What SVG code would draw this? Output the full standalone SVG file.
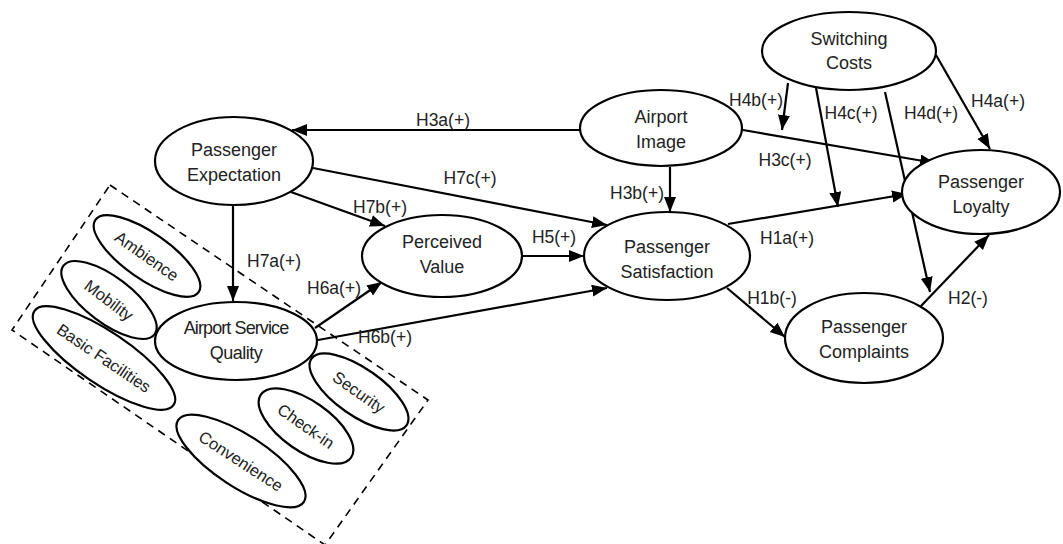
<svg xmlns="http://www.w3.org/2000/svg" width="1063" height="544" viewBox="0 0 1063 544">
<style>
.n{fill:#fff;stroke:#000;stroke-width:2.2}
.t{font-family:"Liberation Sans",Arial,sans-serif;font-size:18px;text-anchor:middle;fill:#222}
.s{font-family:"Liberation Sans",Arial,sans-serif;font-size:16.5px;text-anchor:middle;fill:#222}
.l{font-family:"Liberation Sans",Arial,sans-serif;font-size:17.5px;text-anchor:middle;fill:#222}
.c{stroke:#000;stroke-width:2.2;fill:none}
</style>
<defs>
<marker id="a" markerUnits="userSpaceOnUse" markerWidth="17" markerHeight="13" refX="15" refY="6" orient="auto"><path d="M0,0 L15,6 L0,12 z" fill="#000"/></marker>
</defs>
<rect width="1063" height="544" fill="#fff"/>
<polygon points="110,185 428,400 325,545 12,330" fill="none" stroke="#000" stroke-width="1.6" stroke-dasharray="8,6"/>
<g id="connectors">
<line class="c" x1="580" y1="130" x2="292" y2="130" marker-end="url(#a)"/>
<line class="c" x1="313" y1="168" x2="607" y2="225" marker-end="url(#a)"/>
<line class="c" x1="291" y1="192" x2="385" y2="226" marker-end="url(#a)"/>
<line class="c" x1="233" y1="205" x2="233" y2="301" marker-end="url(#a)"/>
<line class="c" x1="315" y1="328" x2="382" y2="282" marker-end="url(#a)"/>
<line class="c" x1="318" y1="340" x2="607" y2="288" marker-end="url(#a)"/>
<line class="c" x1="522" y1="256" x2="584" y2="256" marker-end="url(#a)"/>
<line class="c" x1="670" y1="167" x2="670" y2="212" marker-end="url(#a)"/>
<line class="c" x1="743" y1="130" x2="935" y2="163" marker-end="url(#a)"/>
<line class="c" x1="728" y1="224" x2="907" y2="194" marker-end="url(#a)"/>
<line class="c" x1="788" y1="83" x2="782" y2="130" marker-end="url(#a)"/>
<line class="c" x1="816" y1="88" x2="838" y2="207" marker-end="url(#a)"/>
<line class="c" x1="885" y1="92" x2="930" y2="292" marker-end="url(#a)"/>
<line class="c" x1="936" y1="55" x2="990" y2="149" marker-end="url(#a)"/>
<line class="c" x1="727" y1="288" x2="785" y2="337" marker-end="url(#a)"/>
<line class="c" x1="921" y1="306" x2="989" y2="235" marker-end="url(#a)"/>
</g>
<g id="labels">
<text class="l" x="443" y="126">H3a(+)</text>
<text class="l" x="470" y="184">H7c(+)</text>
<text class="l" x="380" y="213">H7b(+)</text>
<text class="l" x="274" y="267">H7a(+)</text>
<text class="l" x="334" y="294">H6a(+)</text>
<text class="l" x="554" y="243">H5(+)</text>
<text class="l" x="385" y="343">H6b(+)</text>
<text class="l" x="637" y="199">H3b(+)</text>
<text class="l" x="785" y="166">H3c(+)</text>
<text class="l" x="756" y="106">H4b(+)</text>
<text class="l" x="851" y="119">H4c(+)</text>
<text class="l" x="931" y="119">H4d(+)</text>
<text class="l" x="998" y="107">H4a(+)</text>
<text class="l" x="787" y="244">H1a(+)</text>
<text class="l" x="772" y="304">H1b(-)</text>
<text class="l" x="968" y="304">H2(-)</text>
</g>
<g id="switching-costs"><ellipse class="n" cx="849" cy="51" rx="87" ry="39"/><text class="t" x="849" y="45">Switching</text><text class="t" x="849" y="69">Costs</text></g>
<g id="airport-image"><ellipse class="n" cx="661" cy="128" rx="81" ry="38"/><text class="t" x="661" y="123">Airport</text><text class="t" x="661" y="148">Image</text></g>
<g id="passenger-loyalty"><ellipse class="n" cx="981" cy="192" rx="79" ry="42"/><text class="t" x="981" y="188">Passenger</text><text class="t" x="981" y="213">Loyalty</text></g>
<g id="passenger-expectation"><ellipse class="n" cx="234" cy="161" rx="79" ry="44"/><text class="t" x="234" y="156">Passenger</text><text class="t" x="234" y="181">Expectation</text></g>
<g id="perceived-value"><ellipse class="n" cx="442" cy="256" rx="80" ry="41"/><text class="t" x="442" y="248">Perceived</text><text class="t" x="442" y="273">Value</text></g>
<g id="passenger-satisfaction"><ellipse class="n" cx="667" cy="256" rx="83" ry="44"/><text class="t" x="667" y="253">Passenger</text><text class="t" x="667" y="278">Satisfaction</text></g>
<g id="passenger-complaints"><ellipse class="n" cx="864" cy="338" rx="79" ry="45"/><text class="t" x="864" y="333">Passenger</text><text class="t" x="864" y="358">Complaints</text></g>
<g id="airport-service-quality"><ellipse class="n" cx="236" cy="341" rx="81" ry="39"/><text class="t" x="236" y="334" letter-spacing="-0.9">Airport Service</text><text class="t" x="236" y="359" letter-spacing="-0.5">Quality</text></g>
<g id="ambience" transform="translate(147,256) rotate(35)"><ellipse class="n" rx="63" ry="23"/><text class="s" y="6">Ambience</text></g>
<g id="mobility" transform="translate(109,300) rotate(37)"><ellipse class="n" rx="57" ry="23"/><text class="s" y="6">Mobility</text></g>
<g id="basic-facilities" transform="translate(104,358) rotate(34)"><ellipse class="n" rx="84" ry="26"/><text class="s" y="6">Basic Facilities</text></g>
<g id="convenience" transform="translate(241,461) rotate(33)"><ellipse class="n" rx="75" ry="26"/><text class="s" y="6">Convenience</text></g>
<g id="check-in" transform="translate(306,426) rotate(35)"><ellipse class="n" rx="55" ry="25"/><text class="s" y="6">Check-in</text></g>
<g id="security" transform="translate(359,392) rotate(35)"><ellipse class="n" rx="58" ry="23.5"/><text class="s" y="6">Security</text></g>
</svg>
